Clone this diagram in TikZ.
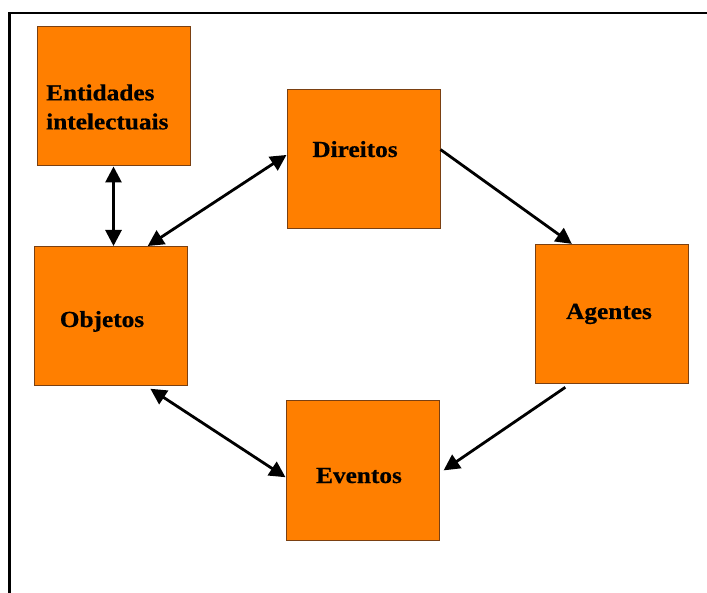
\documentclass[tikz,border=0pt]{standalone}
\usepackage{fontspec}
\setmainfont{Liberation Serif}[FakeStretch=1.1, FakeBold=0.6]
\usetikzlibrary{arrows.meta,calc}
\definecolor{boxfill}{HTML}{FF7F00}
\definecolor{boxedge}{HTML}{7A4012}
\tikzset{
  conceptbox/.style={draw=boxedge, line width=1pt, fill=boxfill,
    minimum width=153pt, minimum height=139pt, inner sep=0pt},
  label text/.style={font=\bfseries\fontsize{23}{29}\selectfont, inner sep=0pt},
  link/.style={line width=2.8pt, draw=black},
  tip/.style={-{Triangle[length=16pt,width=16pt]}},
  twotip/.style={{Triangle[length=16pt,width=16pt]}-{Triangle[length=16pt,width=16pt]}},
}
\begin{document}
\begin{tikzpicture}[x=1pt,y=-1pt]
  \useasboundingbox (0,0) rectangle (707,593);
  % frame along the top and left edges
  \draw[line width=2.4pt, black] (9.5,593) -- (9.5,13) -- (707,13);

  % concept boxes
  \node[conceptbox] (ent) at (113.5,96.5) {};
  \node[conceptbox] (obj) at (110.5,316) {};
  \node[conceptbox] (dir) at (363.5,159) {};
  \node[conceptbox] (age) at (611.5,314.5) {};
  \node[conceptbox] (evt) at (362.5,470.5) {};

  % labels
  \node[label text, anchor=west, align=left] (entlabel) at (46,107) {Entidades\\intelectuais};
  \node[label text, anchor=base] (dirlabel) at (355,157) {Direitos};
  \node[label text, anchor=base] (agelabel) at (609,319) {Agentes};
  \node[label text, anchor=base] (objlabel) at (102,327) {Objetos};
  \node[label text, anchor=base] (evtlabel) at (359,483) {Eventos};

  % connectors
  \draw[link, twotip] (ent.south) -- (ent.south |- obj.north);
  \draw[link, twotip] (obj.62.5) -- (dir.177);
  \draw[link, tip, shorten >=1pt] (dir.7) -- (age.119);
  \draw[link, tip, shorten <=5pt, shorten >=5pt] (age.239) -- (evt.-2);
  \draw[link, twotip, shorten <=5pt] (obj.-63) -- (evt.185);
\end{tikzpicture}
\end{document}
